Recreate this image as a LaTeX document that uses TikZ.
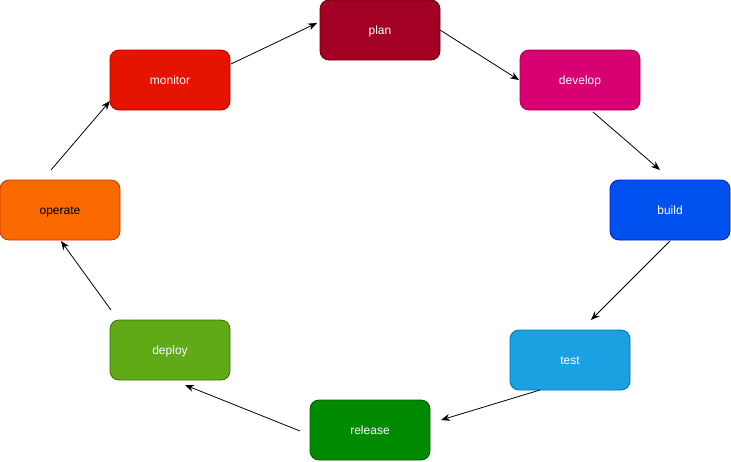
\documentclass[tikz,border=0pt]{standalone}
\usepackage{fontspec}
\setmainfont{Liberation Sans}
\usetikzlibrary{arrows.meta}
\definecolor{planF}{HTML}{A20025}\definecolor{planS}{HTML}{6F0000}
\definecolor{devF}{HTML}{D80073}\definecolor{devS}{HTML}{A50040}
\definecolor{buildF}{HTML}{0050EF}\definecolor{buildS}{HTML}{001DBC}
\definecolor{testF}{HTML}{1BA1E2}\definecolor{testS}{HTML}{006EAF}
\definecolor{relF}{HTML}{008A00}\definecolor{relS}{HTML}{005700}
\definecolor{depF}{HTML}{60A917}\definecolor{depS}{HTML}{2D7600}
\definecolor{opF}{HTML}{FA6800}\definecolor{opS}{HTML}{C73500}
\definecolor{monF}{HTML}{E51400}\definecolor{monS}{HTML}{B20000}
\tikzset{
  stagebox/.style={rectangle, rounded corners=9pt, minimum width=120pt, minimum height=60pt,
    inner sep=0pt, line width=0.8pt, text=white, text height=10.5pt, text depth=1.5pt,
    font=\fontsize{12}{14}\selectfont},
  flow/.style={-{Stealth[length=9pt,width=7pt]}, line width=0.8pt, black}
}
\begin{document}
\begin{tikzpicture}[x=1pt,y=-1pt]
\useasboundingbox (0,0) rectangle (731,461);
\node[stagebox, fill=planF, draw=planS] (plan) at (380,30) {plan};
\node[stagebox, fill=devF, draw=devS] (develop) at (580,80) {develop};
\node[stagebox, fill=buildF, draw=buildS] (build) at (670,210) {build};
\node[stagebox, fill=testF, draw=testS] (test) at (570,360) {test};
\node[stagebox, fill=relF, draw=relS] (release) at (370,430) {release};
\node[stagebox, fill=depF, draw=depS] (deploy) at (170,350) {deploy};
\node[stagebox, fill=opF, draw=opS, text=black] (operate) at (60,210) {operate};
\node[stagebox, fill=monF, draw=monS] (monitor) at (170,80) {monitor};

\draw[flow] ([shift={(61,-16)}]monitor.center) -- ([shift={(-63,-7)}]plan.center);
\draw[flow] ([shift={(60,0)}]plan.center) -- ([shift={(-61,0)}]develop.center);
\draw[flow] ([shift={(13,32)}]develop.center) -- ([shift={(-10,-40)}]build.center);
\draw[flow] ([shift={(0,31)}]build.center) -- ([shift={(21,-40)}]test.center);
\draw[flow] ([shift={(-30,30)}]test.center) -- ([shift={(71,-10)}]release.center);
\draw[flow] ([shift={(-70,1)}]release.center) -- ([shift={(15,35)}]deploy.center);
\draw[flow] ([shift={(-59,-40)}]deploy.center) -- ([shift={(1,31)}]operate.center);
\draw[flow] ([shift={(-9,-40)}]operate.center) -- ([shift={(-60,21)}]monitor.center);
\end{tikzpicture}
\end{document}
